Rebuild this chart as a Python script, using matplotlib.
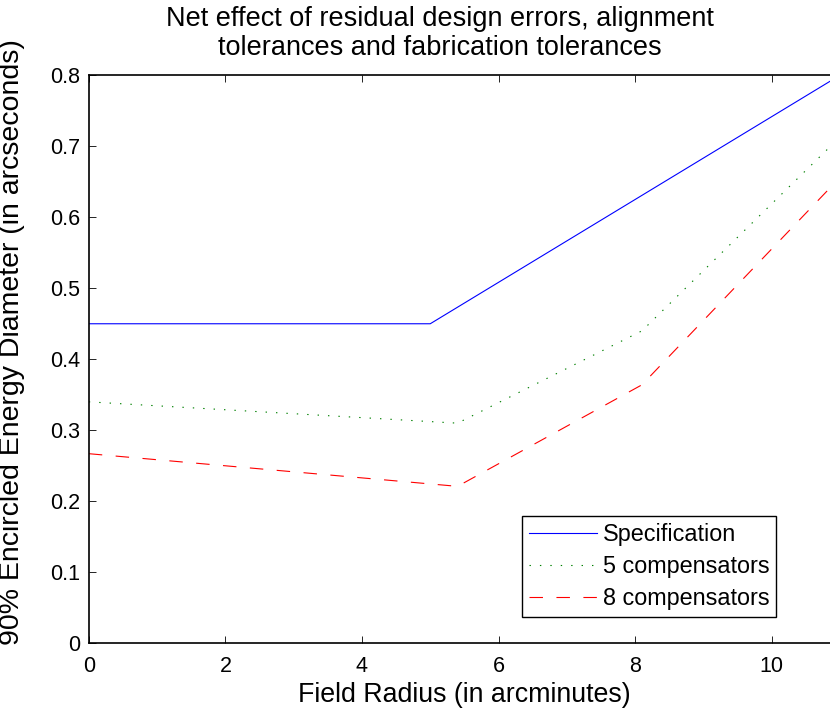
import matplotlib
matplotlib.use('Agg')
import matplotlib.pyplot as plt

plt.rcParams['font.family'] = ['Liberation Sans', 'DejaVu Sans']
plt.rcParams['lines.scale_dashes'] = False

# field radius (arcmin) vs 90% encircled energy diameter (arcsec)
spec_x = [0, 5, 11]
spec_y = [0.45, 0.45, 0.80]

comp_x = [0, 5.4, 8.1, 11]
comp5_y = [0.340, 0.310, 0.440, 0.713]
comp8_y = [0.267, 0.221, 0.364, 0.656]

x_ticks = [0, 2, 4, 6, 8, 10]
y_ticks = [0, 0.1, 0.2, 0.3, 0.4, 0.5, 0.6, 0.7, 0.8]

fig = plt.figure(figsize=(8.3, 7.1), dpi=100)
ax = fig.add_axes([0.107, 0.094, 0.905, 0.80])

ax.plot(spec_x, spec_y, color='#0000ff', lw=0.8, label='Specification')
ax.plot(comp_x, comp5_y, color='#008000', lw=0.8, dashes=(1, 6.5), label='5 compensators')
ax.plot(comp_x, comp8_y, color='#ff0000', lw=0.8, dashes=(9.7, 9.7), label='8 compensators')

ax.set_xlim(0, 11)
ax.set_ylim(0, 0.8)
ax.set_xticks(x_ticks)
ax.set_yticks(y_ticks)
ax.set_yticklabels(['0', '0.1', '0.2', '0.3', '0.4', '0.5', '0.6', '0.7', '0.8'])
ax.tick_params(direction='in', length=5, width=0.6, top=True, right=True, labelsize=15.5)
ax.tick_params(axis='x', pad=9)
ax.tick_params(axis='y', pad=6)
for s in ax.spines.values():
    s.set_linewidth(1.2)

ax.set_xlabel('Field Radius (in arcminutes)', fontsize=19.3, labelpad=4)
ax.set_ylabel('90% Encircled Energy Diameter (in arcseconds)', fontsize=20.5)
ax.yaxis.set_label_coords(-0.085, 0.53)

# title placed by hand, slightly left of the axes centre
fig.text(0.53, 0.992, 'Net effect of residual design errors, alignment\ntolerances and fabrication tolerances',
         ha='center', va='top', fontsize=19.5, linespacing=1.15)

leg = ax.legend(loc='lower left', bbox_to_anchor=(0.629, 0.131), bbox_transform=fig.transFigure,
                fontsize=16.8, fancybox=False, framealpha=1, edgecolor='black',
                handlelength=2.9, handletextpad=0.25, borderpad=0.3, labelspacing=0.38,
                borderaxespad=0)
leg.get_frame().set_linewidth(1.0)

fig.savefig('out.png', dpi=100)
